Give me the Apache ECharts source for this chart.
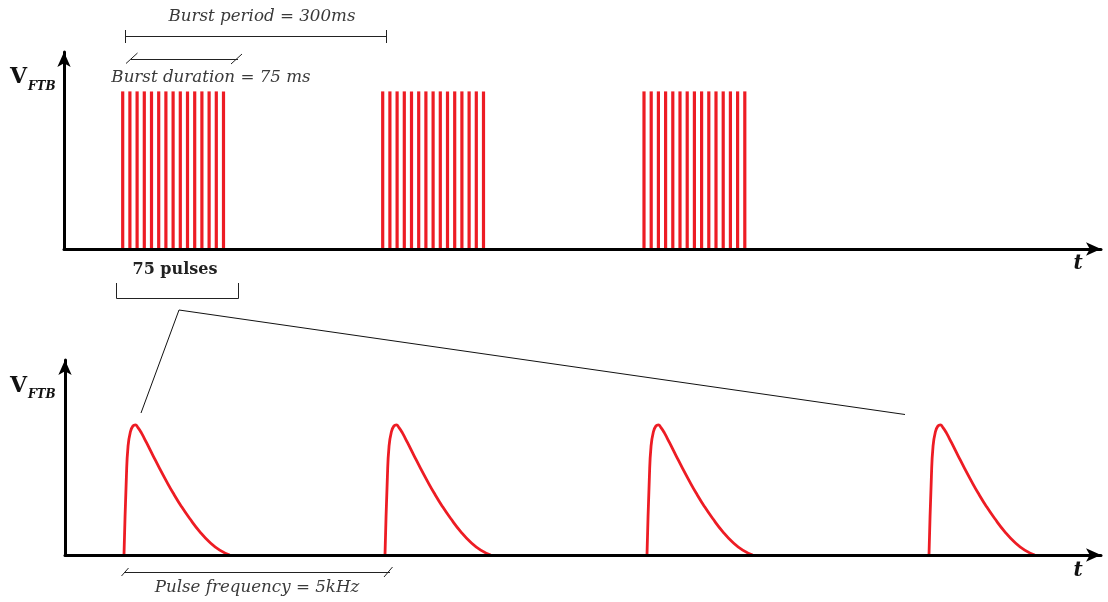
<!DOCTYPE html>
<html><head><meta charset="utf-8">
<script src="https://cdn.jsdelivr.net/npm/echarts@6/dist/echarts.min.js"></script>
<style>html,body{margin:0;padding:0;background:#fff}#c{width:1108px;height:602px}</style>
</head><body><div id="c"></div>
<script>
// ---- top panel: burst train (time axis in arbitrary units) ----
const burst1 = [58.7, 65.9, 73.1, 80.3, 87.5, 94.7, 101.9, 109.1, 116.3, 123.5, 130.7, 137.9, 145.1, 152.3, 159.5];
const burst2 = [318.7, 325.9, 333.1, 340.3, 347.5, 354.7, 361.9, 369.1, 376.3, 383.5, 390.7, 397.9, 405.1, 412.3, 419.5];
const burst3 = [580.0, 587.2, 594.4, 601.6, 608.8, 616.0, 623.2, 630.4, 637.6, 644.8, 652.0, 659.2, 666.4, 673.6, 680.8];
const burstLevel = 80;

// ---- bottom panel: individual pulses ----
const pulseStarts = [59, 320, 582, 864];
const pulseShapeT = [0, 2.4, 4, 6.4, 9, 11.4, 14, 17.4, 22.4, 29, 35.7, 42.4, 49, 57.4, 65.7, 75.7, 85.7, 95.7, 105.7];
const pulseShapeV = [0, 40.2, 55.5, 63.2, 66.2, 66.7, 65.3, 62.6, 57.7, 51.0, 44.3, 37.9, 31.9, 24.9, 18.7, 12.0, 6.5, 2.5, 0];

// ---- annotation texts ----
const txtPeriod = 'Burst period = 300ms';
const txtDuration = 'Burst duration = 75 ms';
const txtPulses = '75 pulses';
const txtFreq = 'Pulse frequency = 5kHz';

const RED = '#ed1c24';
const burstData = [...burst1, ...burst2, ...burst3].map(x => [x, burstLevel]);
const pulseData = [];
pulseStarts.forEach(s => {
  pulseShapeT.forEach((t, i) => pulseData.push([s + t, pulseShapeV[i]]));
  pulseData.push(null);
});

function axisX(grid, max) {
  return { gridIndex: grid, type: 'value', min: 0, max: max, z: 5,
    axisLine: { show: true, onZero: false, lineStyle: { color: '#000', width: 3 }, symbol: ['none', 'arrow'], symbolSize: [10, 15] },
    axisTick: { show: false }, axisLabel: { show: false }, splitLine: { show: false } };
}
function axisY(grid) {
  return { gridIndex: grid, type: 'value', min: 0, max: 100, z: 5,
    axisLine: { show: true, onZero: false, lineStyle: { color: '#000', width: 3 }, symbol: ['none', 'arrow'], symbolSize: [10, 15] },
    axisTick: { show: false }, axisLabel: { show: false }, splitLine: { show: false } };
}
const ital = 'italic 16.7px "DejaVu Serif"';
const thin = { stroke: '#222', lineWidth: 1 };
function ln(x1, y1, x2, y2) { return { type: 'line', shape: { x1, y1, x2, y2 }, style: thin, silent: true }; }
function tx(text, x, y, font, fill, align) {
  return { type: 'text', x: x, y: y, silent: true,
    style: { text: text, font: font, fill: fill || '#3a3a3a', align: align || 'center', verticalAlign: 'middle' } };
}

const chart = echarts.init(document.getElementById('c'), null, { renderer: 'canvas' });
chart.setOption({
  animation: false,
  backgroundColor: '#fff',
  grid: [
    { left: 64, right: 7, top: 52, height: 197 },
    { left: 65, right: 7, top: 360, height: 195 }
  ],
  xAxis: [axisX(0, 1037), axisX(1, 1036)],
  yAxis: [axisY(0), axisY(1)],
  series: [
    { type: 'custom', xAxisIndex: 0, yAxisIndex: 0, data: burstData, z: 2,
      renderItem: function (params, api) {
        const p0 = api.coord([api.value(0), 0]);
        const p1 = api.coord([api.value(0), api.value(1)]);
        return { type: 'line', shape: { x1: p0[0], y1: p0[1], x2: p1[0], y2: p1[1] },
          style: { stroke: RED, lineWidth: 3.2 } };
      } },
    { type: 'line', xAxisIndex: 1, yAxisIndex: 1, data: pulseData, showSymbol: false, symbol: 'none',
      smooth: 0.5, connectNulls: false, z: 2,
      lineStyle: { color: RED, width: 2.8 } }
  ],
  graphic: [
    tx(txtPeriod, 262, 17, ital),
    ln(125.5, 36.5, 386.5, 36.5), ln(125.5, 30, 125.5, 43), ln(386.5, 30, 386.5, 43),
    ln(131, 59.5, 238, 59.5), ln(126, 63.5, 137.5, 53), ln(231, 64, 242, 54),
    tx(txtDuration, 211, 78, ital),
    tx('V', 10, 77, 'bold 22px "DejaVu Serif"', '#111', 'left'),
    tx('FTB', 28, 87, 'italic bold 12px "DejaVu Serif"', '#111', 'left'),
    tx('V', 10, 386, 'bold 22px "DejaVu Serif"', '#111', 'left'),
    tx('FTB', 28, 395, 'italic bold 12px "DejaVu Serif"', '#111', 'left'),
    tx('t', 1078, 264, 'italic bold 20px "DejaVu Serif"', '#111'),
    tx('t', 1078, 571, 'italic bold 20px "DejaVu Serif"', '#111'),
    tx(txtPulses, 175, 270, 'bold 16px "DejaVu Serif"', '#222'),
    { type: 'polyline', shape: { points: [[116.5, 283], [116.5, 298.5], [238.5, 298.5], [238.5, 283]] }, style: { stroke: '#222', lineWidth: 1, fill: null }, silent: true },
    { type: 'polyline', shape: { points: [[141, 413], [179, 310], [905, 414.5]] }, style: { stroke: '#111', lineWidth: 1, fill: null }, silent: true },
    ln(124, 572.5, 390, 572.5), ln(121.5, 576, 128.5, 568), ln(384, 577, 392.5, 567),
    tx(txtFreq, 257, 588, ital)
  ]
});
</script></body></html>
